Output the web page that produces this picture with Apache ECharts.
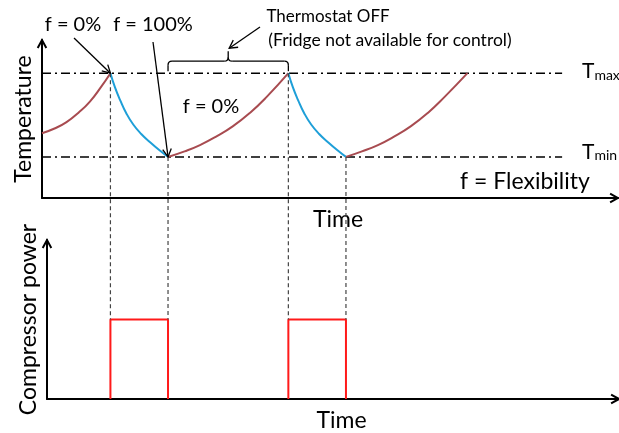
<!DOCTYPE html>
<html>
<head>
<meta charset="utf-8">
<script src="https://cdn.jsdelivr.net/npm/echarts@6/dist/echarts.min.js"></script>
<style>
html,body{margin:0;padding:0;background:#fff;}
#main{width:619px;height:433px;}
</style>
</head>
<body>
<div id="main"></div>
<script>
// ---- Data (arbitrary time units, temperature / power units) ----
var tMax = 7.9;
var tMin = 2.6;
var thresholdEnd = 91.2;
var heating1 = [[0, 4.1], [2.2, 4.4], [4.3, 4.8], [6.4, 5.4], [8.4, 6.1], [10.3, 7.0], [12, 7.9]];
var cooling1 = [[12, 7.9], [12.8, 7.0], [13.7, 6.2], [14.8, 5.35], [16, 4.65], [17.4, 4.05], [18.9, 3.55], [20.5, 3.05], [22.1, 2.6]];
var heating2 = [[22.1, 2.6], [25, 2.95], [27.7, 3.35], [30.6, 3.9], [33.5, 4.55], [36.5, 5.4], [39.4, 6.4], [43.2, 7.9]];
var cooling2 = [[43.2, 7.9], [44, 7.0], [44.9, 6.2], [46, 5.35], [47.2, 4.65], [48.6, 4.05], [50.1, 3.55], [51.7, 3.05], [53.3, 2.6]];
var heating3 = [[53.3, 2.6], [56.1, 2.95], [58.9, 3.35], [61.8, 3.9], [64.7, 4.55], [67.7, 5.4], [70.6, 6.4], [74.6, 7.9]];
var pulseStarts = [12, 43.2];
var pulseEnds = [22.1, 53.3];
var pulseLevel = 5;
// switching instants with the temperature at which they happen
var switchTimes = [12, 22.1, 43.2, 53.3];
var switchTemps = [7.9, 2.6, 7.9, 2.6];

var RED = '#A84B50', BLUE = '#1E9FD8', PULSE = '#FF1A1A';
var FONT = 'Lato';

var chart = echarts.init(document.getElementById('main'), null, {renderer: 'canvas'});

function curve(data, color) {
  return {type: 'line', xAxisIndex: 0, yAxisIndex: 0, data: data, smooth: 0.5,
    showSymbol: false, silent: true, lineStyle: {color: color, width: 2}};
}
var series = [
  {type: 'line', xAxisIndex: 0, yAxisIndex: 0, data: [[0, tMax], [thresholdEnd, tMax]], showSymbol: false, silent: true,
    lineStyle: {color: '#000', width: 1.5, type: [9, 4, 2, 4]}},
  {type: 'line', xAxisIndex: 0, yAxisIndex: 0, data: [[0, tMin], [thresholdEnd, tMin]], showSymbol: false, silent: true,
    lineStyle: {color: '#000', width: 1.5, type: [9, 4, 2, 4]}},
  curve(heating1, RED), curve(cooling1, BLUE), curve(heating2, RED), curve(cooling2, BLUE), curve(heating3, RED)
];
for (var i = 0; i < pulseStarts.length; i++) {
  series.push({type: 'line', xAxisIndex: 1, yAxisIndex: 1, showSymbol: false, silent: true,
    data: [[pulseStarts[i], 0], [pulseStarts[i], pulseLevel], [pulseEnds[i], pulseLevel], [pulseEnds[i], 0]],
    lineStyle: {color: PULSE, width: 2}, z: 3});
}

var axisLine = {show: true, lineStyle: {color: '#000', width: 2}};
var nameStyle = {fontFamily: FONT, fontSize: 23, color: '#000'};

chart.setOption({
  animation: false,
  backgroundColor: '#fff',
  grid: [
    {left: 42, top: 40, width: 576, height: 158},
    {left: 47, top: 240, width: 571, height: 159}
  ],
  xAxis: [
    {type: 'value', gridIndex: 0, min: 0, max: 101, axisLine: axisLine, axisTick: {show: false},
      axisLabel: {show: false}, splitLine: {show: false},
      name: 'Time', nameLocation: 'middle', nameGap: 10, nameTextStyle: Object.assign({padding: [0, 0, 0, 16]}, nameStyle)},
    {type: 'value', gridIndex: 1, min: 0.88, max: 101, axisLine: axisLine, axisTick: {show: false},
      axisLabel: {show: false}, splitLine: {show: false},
      name: 'Time', nameLocation: 'middle', nameGap: 10, nameTextStyle: Object.assign({padding: [0, 0, 0, 18]}, nameStyle)}
  ],
  yAxis: [
    {type: 'value', gridIndex: 0, min: 0, max: 10, axisLine: axisLine, axisTick: {show: false},
      axisLabel: {show: false}, splitLine: {show: false},
      name: 'Temperature', nameLocation: 'middle', nameGap: 7, nameRotate: 90, nameTextStyle: nameStyle},
    {type: 'value', gridIndex: 1, min: 0, max: 10, axisLine: axisLine, axisTick: {show: false},
      axisLabel: {show: false}, splitLine: {show: false},
      name: 'Compressor power', nameLocation: 'middle', nameGap: 7, nameRotate: 90, nameTextStyle: nameStyle}
  ],
  series: series
});

// ---- Annotations positioned through the axes' scales ----
function p0(x, y) { return chart.convertToPixel({xAxisIndex: 0, yAxisIndex: 0}, [x, y]); }
function p1(x, y) { return chart.convertToPixel({xAxisIndex: 1, yAxisIndex: 1}, [x, y]); }

var g = [];
function openArrow(tip, from, len, color, width) {
  var dx = from[0] - tip[0], dy = from[1] - tip[1];
  var d = Math.sqrt(dx * dx + dy * dy); dx /= d; dy /= d;
  var a = 0.5;
  var c = Math.cos(a), s = Math.sin(a);
  var l = [tip[0] + len * (dx * c - dy * s), tip[1] + len * (dx * s + dy * c)];
  var r = [tip[0] + len * (dx * c + dy * s), tip[1] + len * (-dx * s + dy * c)];
  g.push({type: 'polyline', shape: {points: [l, tip, r]}, style: {stroke: color, lineWidth: width, fill: null}, z: 10});
}
function line(a, b, style) {
  g.push({type: 'line', shape: {x1: a[0], y1: a[1], x2: b[0], y2: b[1]}, style: style, z: 10});
}
function quad(a, c, b, style) {
  g.push({type: 'bezierCurve', shape: {x1: a[0], y1: a[1], cpx1: c[0], cpy1: c[1], x2: b[0], y2: b[1]}, style: Object.assign({fill: null}, style), z: 10});
}
function text(str, x, y, size, align, extra) {
  var o = {type: 'text', x: x, y: y, z: 10,
    style: {text: str, fontFamily: FONT, fontSize: size, fill: '#000', align: align || 'center', verticalAlign: 'middle'}};
  if (extra) Object.assign(o.style, extra);
  g.push(o);
}

// axis arrow heads
var yTop0 = p0(0, 10), xEnd0 = p0(101, 0);
openArrow(yTop0, [yTop0[0], yTop0[1] + 10], 9, '#000', 2);
openArrow(xEnd0, [xEnd0[0] - 10, xEnd0[1]], 9, '#000', 2);
var yTop1 = p1(0.88, 10), xEnd1 = p1(101, 0);
openArrow(yTop1, [yTop1[0], yTop1[1] + 10], 9, '#000', 2);
openArrow([xEnd1[0] + 1, xEnd1[1]], [xEnd1[0] - 10, xEnd1[1]], 9, '#000', 2);

// dashed drop lines from switching instants down to the compressor pulses
for (var k = 0; k < switchTimes.length; k++) {
  var a = p0(switchTimes[k], switchTemps[k]);
  var b = p1(switchTimes[k], pulseLevel);
  line(a, b, {stroke: '#444', lineWidth: 1.2, lineDash: [4, 3]});
}

// f = 0% / f = 100% labels with arrows
var peak1 = p0(switchTimes[0], tMax), trough1 = p0(switchTimes[1], tMin);
var thin = {stroke: '#000', lineWidth: 1.3};
text('f = 0%', 73, 25, 20);
line([74, 38], peak1, thin);
openArrow(peak1, [74, 38], 9, '#000', 1.3);
text('f = 100%', 153, 25, 20);
line([153, 42], trough1, thin);
openArrow(trough1, [153, 42], 9, '#000', 1.3);

// brace over the thermostat-off period
var bl = p0(switchTimes[1], tMax), br = p0(switchTimes[2], tMax);
var by = bl[1] - 12, mx = (bl[0] + br[0]) / 2;
line([bl[0], bl[1] - 2], [bl[0], by + 4], thin);
quad([bl[0], by + 4], [bl[0], by], [bl[0] + 4, by], thin);
line([bl[0] + 4, by], [mx - 4, by], thin);
quad([mx - 4, by], [mx, by], [mx, by - 4], thin);
quad([mx, by - 4], [mx, by], [mx + 4, by], thin);
line([mx, by - 4], [mx, by - 10], thin);
line([mx + 4, by], [br[0] - 4, by], thin);
quad([br[0] - 4, by], [br[0], by], [br[0], by + 4], thin);
line([br[0], by + 4], [br[0], br[1] - 2], thin);
var braceTip = [mx + 1, by - 13];
line([260, 27], braceTip, thin);
openArrow(braceTip, [260, 27], 9, '#000', 1.3);
text('Thermostat OFF', 328, 17, 17);
text('(Fridge not available for control)', 390, 40, 17.5);

text('f = 0%', 211, 107, 20);
text('f = Flexibility', 525, 182, 23);

// threshold labels
var tm = p0(0, tMax), tn = p0(0, tMin);
var rich = {b: {fontFamily: FONT, fontSize: 21, fill: '#000', verticalAlign: 'bottom', lineHeight: 24},
            s: {fontFamily: FONT, fontSize: 14, fill: '#000', verticalAlign: 'bottom', lineHeight: 16}};
g.push({type: 'text', x: 582, y: tm[1] - 3, z: 10, style: {text: '{b|T}{s|max}', fontFamily: FONT, align: 'left', verticalAlign: 'middle', rich: rich}});
g.push({type: 'text', x: 582, y: tn[1] - 6, z: 10, style: {text: '{b|T}{s|min}', fontFamily: FONT, align: 'left', verticalAlign: 'middle', rich: rich}});

chart.setOption({graphic: g});
</script>
</body>
</html>
